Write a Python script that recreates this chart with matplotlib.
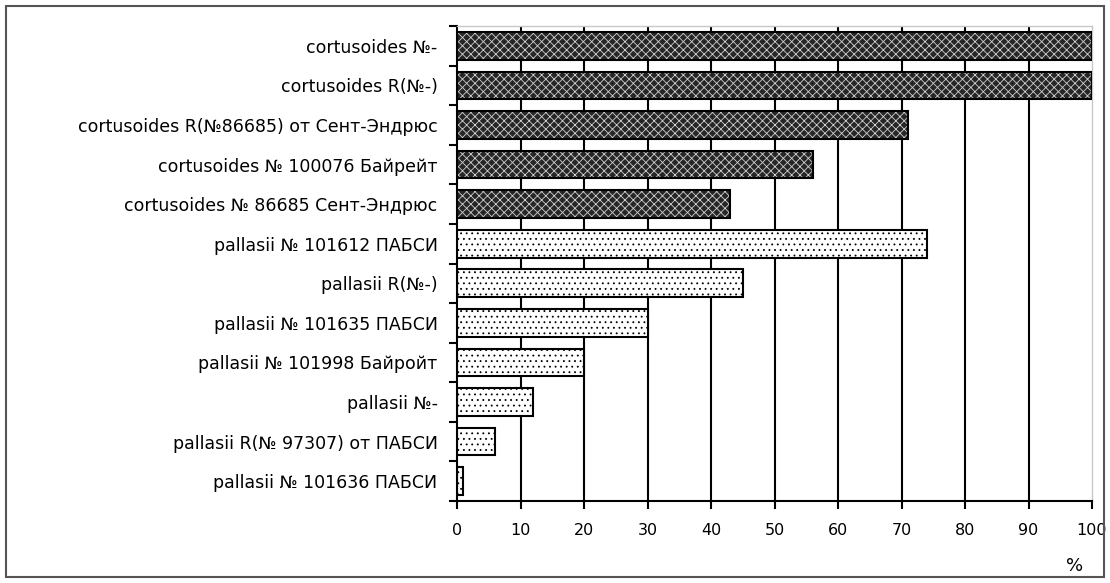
import numpy as np
import matplotlib.pyplot as plt
from matplotlib.patches import Rectangle

# данные (сверху вниз)
labels = [
    "cortusoides №-",
    "cortusoides R(№-)",
    "cortusoides R(№86685) от Сент-Эндрюс",
    "cortusoides № 100076 Байрейт",
    "cortusoides № 86685 Сент-Эндрюс",
    "pallasii № 101612 ПАБСИ",
    "pallasii R(№-)",
    "pallasii № 101635 ПАБСИ",
    "pallasii № 101998 Байройт",
    "pallasii №-",
    "pallasii R(№ 97307) от ПАБСИ",
    "pallasii № 101636 ПАБСИ",
]
values = [100, 100, 71, 56, 43, 74, 45, 30, 20, 12, 6, 1]
groups = ["cortusoides"] * 5 + ["pallasii"] * 7
xticks = [0, 10, 20, 30, 40, 50, 60, 70, 80, 90, 100]

plt.rcParams['font.family'] = ['DejaVu Sans']
plt.rcParams['hatch.linewidth'] = 0.6

fig = plt.figure(figsize=(11.1, 5.83), dpi=100)
ax = fig.add_axes([457/1110, 1 - 501/583, (1092-457)/1110, (501-26)/583])

n = len(labels)
y = np.arange(n)

# сетка
for xv in xticks[1:-1]:
    ax.axvline(xv, color='black', lw=1.5, zorder=1)

for yi, v, g in zip(y, values, groups):
    if g == "cortusoides":
        ax.barh(yi, v, height=0.7, color='#262626', edgecolor='#d0d0d0',
                hatch='xxxx', lw=0, zorder=2)
    else:
        ax.barh(yi, v, height=0.7, color='white', edgecolor='black',
                hatch='...', lw=0, zorder=2)
    ax.barh(yi, v, height=0.7, fill=False, edgecolor='black', lw=1.5, zorder=3)

ax.set_xlim(0, 100)
ax.set_ylim(n - 0.5, -0.5)
ax.set_xticks(xticks)
ax.set_yticks(y)
ax.set_yticklabels(labels, fontsize=12.5)
ax.set_yticks(np.arange(n + 1) - 0.5, minor=True)
ax.tick_params(axis='y', which='major', length=0, pad=14)
ax.tick_params(axis='y', which='minor', length=6, width=1.5, direction='out')
ax.tick_params(axis='x', length=6, width=1.5, direction='out', labelsize=11.5, pad=10)

for s in ['top', 'right']:
    ax.spines[s].set_color('#c8c8c8')
    ax.spines[s].set_linewidth(1)
for s in ['left', 'bottom']:
    ax.spines[s].set_linewidth(1.5)

fig.text(1075/1110, 1 - 566/583, "%", fontsize=13, ha='center', va='center')

fig.patches.append(Rectangle((6/1110, 6/583), 1098/1110, 571/583, transform=fig.transFigure,
                             fill=False, edgecolor='#555555', lw=1.5))

fig.savefig("out.png", dpi=100)
